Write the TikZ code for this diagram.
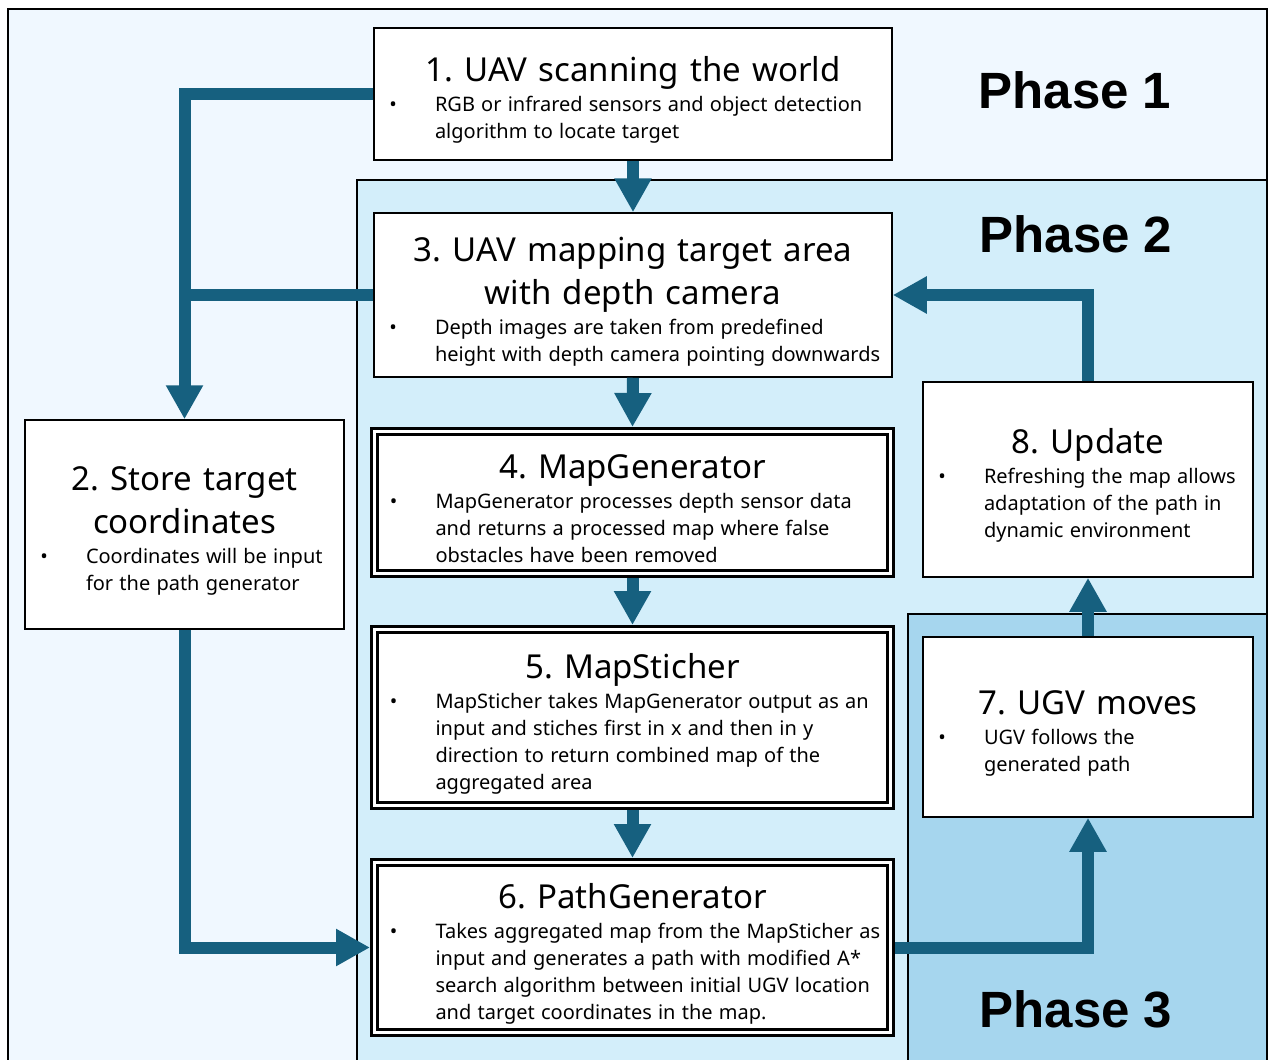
\documentclass[tikz,border=0pt]{standalone}
\usepackage{fontspec}
\setmainfont{Noto Sans}
\newfontfamily\phasefont{Liberation Sans}
\usetikzlibrary{arrows.meta,shadows}

\definecolor{phaseA}{HTML}{F0F8FF}
\definecolor{phaseB}{HTML}{D3EEFA}
\definecolor{phaseC}{HTML}{A6D6EE}
\definecolor{flow}{HTML}{16607F}

% title line(s) of a step box; the strut leaves some room above the title
\newcommand{\steptitle}[1]{{\centering\fontsize{33}{43}\selectfont
  \spaceskip=0.34em plus 0.1em minus 0.05em \xspaceskip=\spaceskip
  \rule{0pt}{37pt}#1\par}\vspace{3pt}}
% bulleted description below the title
\newcommand{\stepbody}[1]{{\raggedright\fontsize{20}{27}\selectfont
  \spaceskip=0.31em plus 0.1em minus 0.05em \xspaceskip=\spaceskip
  \leftskip=61pt\rightskip=0pt plus 1fil\noindent\llap{\textbullet\hspace{38pt}}#1\par}}

\tikzset{
  card/.style 2 args={draw=black, line width=1.5pt, fill=white, inner sep=0pt,
    text width=#1, minimum height=#2, anchor=center},
  dblcard/.style 2 args={draw=black, line width=3pt, double=white, double distance=3pt,
    fill=white, inner sep=0pt, outer sep=4.5pt, text width=#1, minimum height=#2,
    anchor=center, drop shadow={shadow xshift=2pt, shadow yshift=-3pt, opacity=0.35, fill=black!60}},
  flowline/.style={draw=flow, line width=12pt, line join=miter},
  flowarrow/.style={flowline, -{Triangle[width=35pt,length=34pt]}},
  phaselabel/.style={font=\phasefont\bfseries\fontsize{51}{60}\selectfont, anchor=base, inner sep=0pt},
  panel/.style={draw=black, line width=1.5pt}
}

\begin{document}
\begin{tikzpicture}[x=1pt, y=-1pt]
  \useasboundingbox (0,0) rectangle (1269,1060);
  \clip (0,0) rectangle (1269,1060);
  \fill[white] (0,0) rectangle (1269,1060);

  % phase panels
  \path[panel, fill=phaseA] (8,9) rectangle (1267,1075);
  \path[panel, fill=phaseB] (357,180) rectangle (1267,1075);
  \path[panel, fill=phaseC] (908,614) rectangle (1267,1075);

  \node[phaselabel] (p1) at (1075,108) {Phase 1};
  \node[phaselabel] (p2) at (1076,252) {Phase 2};
  \node[phaselabel] (p3) at (1076,1027) {Phase 3};

  % step boxes
  \node[card={518pt}{132pt}] (b1) at (633,94) {%
    \steptitle{1. UAV scanning the world}%
    \stepbody{RGB or infrared sensors and object detection\newline algorithm to locate target}};

  \node[card={518pt}{164pt}] (b3) at (633,295) {%
    \steptitle{3. UAV mapping target area\\with depth camera}%
    \stepbody{Depth images are taken from predefined\newline height with depth camera pointing downwards}};

  \node[card={319pt}{209pt}] (b2) at (184.5,524.5) {%
    \steptitle{2. Store target\\coordinates}%
    \stepbody{Coordinates will be input\newline for the path generator}};

  \node[dblcard={516pt}{142pt}] (b4) at (632.5,502.5) {%
    \steptitle{4. MapGenerator}%
    \stepbody{MapGenerator processes depth sensor data\newline and returns a processed map where false\newline obstacles have been removed}};

  \node[dblcard={516pt}{176pt}] (b5) at (632.5,717.5) {%
    \steptitle{5. MapSticher}%
    \stepbody{MapSticher takes MapGenerator output as an\newline input and stiches first in x and then in y\newline direction to return combined map of the\newline aggregated area}};

  \node[dblcard={516pt}{170pt}] (b6) at (632.5,947.5) {%
    \steptitle{6. PathGenerator}%
    \stepbody{Takes aggregated map from the MapSticher as\newline input and generates a path with modified A*\newline search algorithm between initial UGV location\newline and target coordinates in the map.}};

  \node[card={330pt}{195pt}] (b8) at (1088,479.5) {%
    \steptitle{8. Update}%
    \stepbody{Refreshing the map allows\newline adaptation of the path in\newline dynamic environment}};

  \node[card={330pt}{180pt}] (b7) at (1088,727) {%
    \steptitle{7. UGV moves}%
    \stepbody{UGV follows the\newline generated path}};

  % flow connectors
  \draw[flowarrow] (b1.south) -- (b3.north);
  \draw[flowarrow] (b3.south) -- (b4.north);
  \draw[flowarrow] (b4.south) -- (b5.north);
  \draw[flowarrow] (b5.south) -- (b6.north);
  \draw[flowarrow] (b1.west) -| (b2.north);
  \draw[flowline] (b3.west) -- (b3.west -| b2.north);
  \draw[flowarrow] (b2.south) |- (b6.west);
  \draw[flowarrow] (b6.east) -| (b7.south);
  \draw[flowarrow] (b7.north) -- (b8.south);
  \draw[flowarrow] (b8.north) |- (b3.east);
\end{tikzpicture}
\end{document}
